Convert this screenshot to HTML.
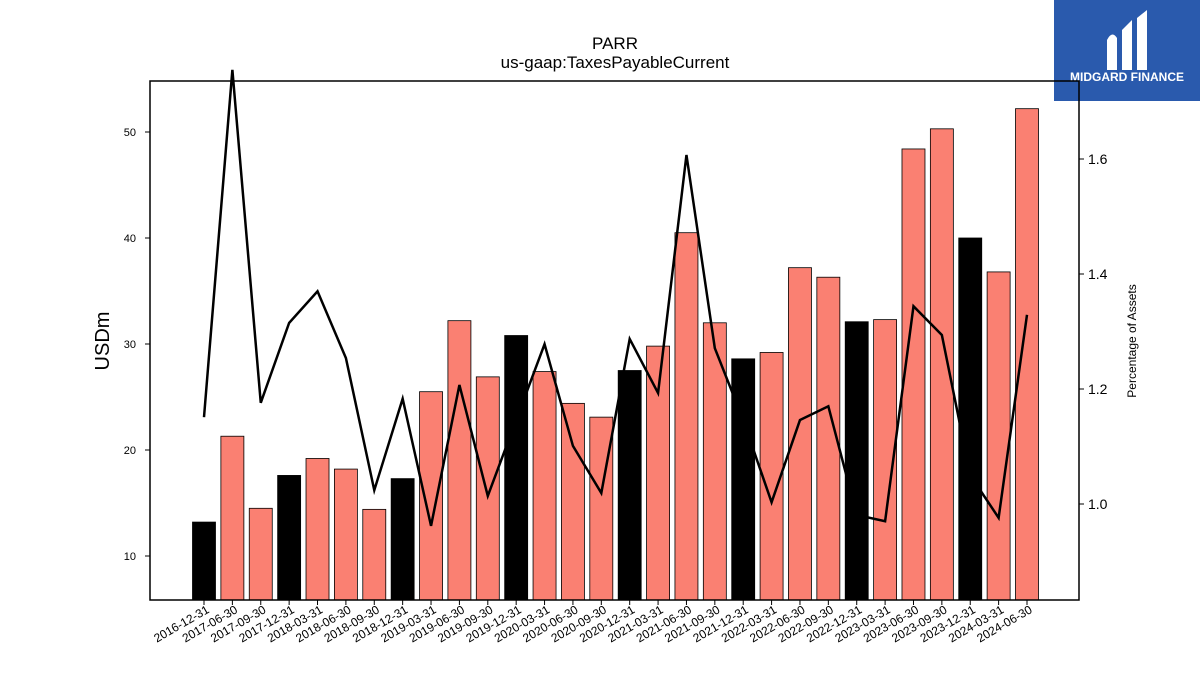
<!DOCTYPE html>
<html><head><meta charset="utf-8"><style>
body{margin:0;background:#fff;}
svg{display:block;font-family:"Liberation Sans",sans-serif;}
</style></head><body>
<svg id="chart" width="1200" height="675" viewBox="0 0 1200 675">
<text x="615" y="49" font-size="17" text-anchor="middle">PARR</text>
<text x="615" y="68" font-size="17" text-anchor="middle">us-gaap:TaxesPayableCurrent</text>
<g id="logo">
<rect x="1054" y="0" width="146" height="101" fill="#2a5aad"/>
<path d="M1107 70 L1107 40 Q1112 30 1117 38 L1117 70 Z M1122 70 L1122 30 L1132 20 L1132 70 Z M1137 70 L1137 18 L1147 10 L1147 70 Z" fill="#fff"/>
<text x="1127" y="81" font-size="12" font-weight="bold" fill="#fff" text-anchor="middle">MIDGARD FINANCE</text>
</g>
<g id="bars"></g>
<g id="line"></g>
<rect x="150" y="81" width="929" height="519" fill="none" stroke="#000" stroke-width="1.5"/>
<g id="yl"></g><g id="yr"></g><g id="xt"></g>
<text transform="translate(109,341) rotate(-90)" font-size="20" text-anchor="middle">USDm</text>
<text transform="translate(1136,341) rotate(-90)" font-size="12" text-anchor="middle">Percentage of Assets</text>
</svg>
<script>
const categories=["2016-12-31","2017-06-30","2017-09-30","2017-12-31","2018-03-31","2018-06-30","2018-09-30","2018-12-31","2019-03-31","2019-06-30","2019-09-30","2019-12-31","2020-03-31","2020-06-30","2020-09-30","2020-12-31","2021-03-31","2021-06-30","2021-09-30","2021-12-31","2022-03-31","2022-06-30","2022-09-30","2022-12-31","2023-03-31","2023-06-30","2023-09-30","2023-12-31","2024-03-31","2024-06-30"];
const barValues=[13.2,21.3,14.5,17.6,19.2,18.2,14.4,17.3,25.5,32.2,26.9,30.8,27.4,24.4,23.1,27.5,29.8,40.5,32.0,28.6,29.2,37.2,36.3,32.1,32.3,48.4,50.3,40.0,36.8,52.2];
const pctValues=[1.151,1.755,1.176,1.315,1.370,1.254,1.024,1.183,0.962,1.207,1.014,1.146,1.278,1.101,1.019,1.287,1.193,1.607,1.271,1.146,1.003,1.146,1.170,0.981,0.970,1.344,1.294,1.050,0.976,1.329];
const leftTicks=[10,20,30,40,50];
const rightTicks=[1.0,1.2,1.4,1.6];
const NS="http://www.w3.org/2000/svg";
const yL=v=>556-(v-10)*10.6;
const yR=v=>504-(v-1.0)*575;
const xC=i=>204+i*(1027-204)/29;
function mk(t,a,p){const e=document.createElementNS(NS,t);for(const k in a)e.setAttribute(k,a[k]);document.getElementById(p).appendChild(e);return e;}
categories.forEach((c,i)=>{
 const black=c.endsWith("12-31");
 const r=mk("rect",{x:xC(i)-11.5,y:yL(barValues[i]),width:23,height:600-yL(barValues[i]),fill:black?"#000":"#fa8072",stroke:"#000","stroke-width":0.8},"bars");
 
 
 mk("line",{x1:xC(i),x2:xC(i),y1:600,y2:605,stroke:"#000"},"xt");
 const t=mk("text",{x:0,y:0,"font-size":12,"text-anchor":"end",transform:`translate(${xC(i)+6},${612}) rotate(-30)`},"xt");
 t.textContent=c;
 
 
});
const pl=mk("polyline",{points:pctValues.map((v,i)=>xC(i)+","+yR(v)).join(" "),fill:"none",stroke:"#000","stroke-width":2.5},"line");


leftTicks.forEach(v=>{
 mk("line",{x1:145,x2:150,y1:yL(v),y2:yL(v),stroke:"#000"},"yl");
 const t=mk("text",{x:136,y:yL(v)+4,"font-size":11,"text-anchor":"end"},"yl");
 t.textContent=v;
 
 
});
rightTicks.forEach(v=>{
 mk("line",{x1:1079,x2:1084,y1:yR(v),y2:yR(v),stroke:"#000"},"yr");
 const t=mk("text",{x:1088,y:yR(v)+5,"font-size":14},"yr");
 t.textContent=v.toFixed(1);
 
 
});
</script>
</body></html>
